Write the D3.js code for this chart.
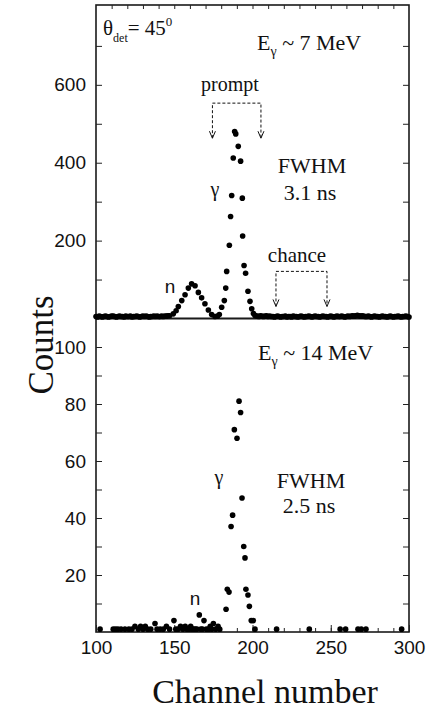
<!DOCTYPE html>
<html>
<head>
<meta charset="utf-8">
<script src="https://cdn.jsdelivr.net/npm/d3@7"></script>
<style>
body { margin: 0; background: #fff; }
.serif { font-family: "Liberation Serif", "Times New Roman", serif; fill: #111; }
.sans { font-family: "Liberation Sans", Arial, sans-serif; fill: #111; }
</style>
</head>
<body>
<script>
// --- data ---
// upper panel, E_gamma ~ 7 MeV
const topChannels = [
  100,101,102,103,104,105,106,107,108,109,
  110,111,112,113,114,115,116,117,118,119,
  120,121,122,123,124,125,126,127,128,129,
  130,131,132,133,134,135,136,137,138,139,
  140,141,142,143,144,145,146,147,
  149.4,151.2,152.6,154.8,156.9,159.0,161.1,163.3,165.4,167.5,
  169.6,171.8,173.9,176.0,177.6,178.8,
  180.3,182.0,182.9,183.5,185.2,186.0,186.7,187.7,188.6,189.3,
  190.9,192.4,193.5,193.7,194.6,195.6,197.1,198.4,199.5,200.6,201.6,
  203,204,205,206,207,208,209,210,211,212,
  213,214,215,216,217,218,219,220,221,222,
  223,224,225,226,227,228,229,230,231,232,
  233,234,235,236,237,238,239,240,241,242,
  243,244,245,246,247,248,249,250,251,252,
  253,254,255,256,257,258,259,260,261,262,
  263,264,265,266,267,268,269,270,271,272,
  273,274,275,276,277,278,279,280,281,282,
  283,284,285,286,287,288,289,290,291,292,
  293,294,295,296,297,298,299,300
];
const topCounts = [
  5,4,6,5,4,5,6,5,4,5,
  6,6,5,4,5,6,5,5,4,6,
  5,5,6,4,5,5,6,5,4,5,
  6,5,6,5,4,5,5,6,5,6,
  5,5,6,5,6,6,7,7,
  12,20,31,46,61,78,89,84,67,53,
  38,22,10,5,6,10,
  29,46,78,121,188,262,316,412,480,474,
  442,404,309,212,136,116,70,44,25,13,8,
  6,5,7,6,5,6,7,5,6,5,
  5,4,5,6,5,4,5,5,6,4,
  5,5,4,6,5,5,4,5,6,5,
  4,5,5,6,5,4,5,6,5,5,
  4,5,6,5,5,4,5,6,5,4,
  5,6,5,5,6,5,4,5,6,5,
  6,7,6,7,8,7,6,7,6,5,
  5,6,5,4,5,6,5,5,4,5,
  6,5,5,4,5,6,5,4,5,5,
  6,5,4,5,5,6,5,4
];

// lower panel, E_gamma ~ 14 MeV
const botChannels = [
  102.6,111,112.5,114,116,118.5,121,123,124.9,127,
  128.5,130,131.5,133,135,137.7,139,141,143,145,
  147,149.8,151,152.5,154,155.5,157,158,159.5,160.5,
  161.5,162.5,163.5,164.5,166,167,168,169,170.5,172,
  173,174,175,176.5,178,179,
  183.1,183.9,185,186.3,187.3,188.4,190.1,191.4,192.4,193.3,
  194.4,195.2,195.8,197.1,198,199.2,200.5,201.6,
  215.4,236.3,256,259.5,267.4,269.5,272.5,295.3
];
const botCounts = [
  1,1,1,1,1,1,1,1,2,1,
  2,1,2,1,1,3,1,1,1,2,
  1,4,1,1,2,1,2,1,1,2,
  1,1,1,1,6,1,1,4,1,1,
  2,1,3,1,2,1,
  8,15,14,37,41,71,68,81,77,47,
  30,26,15,13,9,4,4,1,
  1,1,1,1,1,1,1,1
];

const xLabels = [100, 150, 200, 250, 300];
const topLabels = [200, 400, 600];
const botLabels = [20, 40, 60, 80, 100];

// --- layout ---
const w = 428, h = 712;
const padL = 96, padR = 409, padT = 5, midY = 318.5, padB = 632;

const xScale = d3.scaleLinear().domain([100, 300]).range([padL, padR]);
const yTop = d3.scaleLinear().domain([0, 805]).range([midY, padT]);
const yBot = d3.scaleLinear().domain([0, 110]).range([padB, midY]);

const svg = d3.select("body").append("svg")
  .attr("width", w)
  .attr("height", h);

// frames
svg.append("rect")
  .attr("x", padL).attr("y", padT)
  .attr("width", padR - padL).attr("height", midY - padT)
  .attr("fill", "none").attr("stroke", "#1a1a1a").attr("stroke-width", 1.6);
svg.append("rect")
  .attr("x", padL).attr("y", midY)
  .attr("width", padR - padL).attr("height", padB - midY)
  .attr("fill", "none").attr("stroke", "#1a1a1a").attr("stroke-width", 1.6);

function styleAxis(g) {
  g.select(".domain").remove();
  g.selectAll("line").attr("stroke", "#222").attr("stroke-width", 1);
  g.selectAll("text")
    .attr("class", "sans")
    .style("font-size", "19px")
    .attr("fill", "#111");
}

// y axes, left with labels, right mirrored ticks
svg.append("g")
  .attr("transform", "translate(" + padL + ",0)")
  .call(d3.axisLeft(yTop)
    .tickValues(d3.range(100, 800, 100))
    .tickSizeInner(-6).tickSizeOuter(0).tickPadding(10)
    .tickFormat(d => topLabels.includes(d) ? d : ""))
  .call(styleAxis);
svg.append("g")
  .attr("transform", "translate(" + padL + ",0)")
  .call(d3.axisLeft(yBot)
    .tickValues(d3.range(10, 110, 10))
    .tickSizeInner(-6).tickSizeOuter(0).tickPadding(10)
    .tickFormat(d => botLabels.includes(d) ? d : ""))
  .call(styleAxis);
svg.append("g")
  .attr("transform", "translate(" + padR + ",0)")
  .call(d3.axisRight(yTop).tickValues(d3.range(100, 800, 100))
    .tickSizeInner(-6).tickSizeOuter(0).tickFormat(""))
  .call(styleAxis);
svg.append("g")
  .attr("transform", "translate(" + padR + ",0)")
  .call(d3.axisRight(yBot).tickValues(d3.range(10, 110, 10))
    .tickSizeInner(-6).tickSizeOuter(0).tickFormat(""))
  .call(styleAxis);

// x axes: minor ticks, major ticks with labels, top mirrored
svg.append("g")
  .attr("transform", "translate(0," + padB + ")")
  .call(d3.axisBottom(xScale).tickValues(d3.range(110, 300, 10))
    .tickSizeInner(-4).tickSizeOuter(0).tickFormat(""))
  .call(styleAxis);
svg.append("g")
  .attr("transform", "translate(0," + padB + ")")
  .call(d3.axisBottom(xScale).tickValues(xLabels)
    .tickSizeInner(-7).tickSizeOuter(0).tickPadding(9))
  .call(styleAxis);
svg.append("g")
  .attr("transform", "translate(0," + padT + ")")
  .call(d3.axisTop(xScale).tickValues(d3.range(110, 300, 10))
    .tickSizeInner(-4).tickSizeOuter(0).tickFormat(""))
  .call(styleAxis);

// data points
svg.append("g").selectAll("circle")
  .data(topChannels)
  .enter()
  .append("circle")
  .attr("cx", d => xScale(d))
  .attr("cy", (d, i) => yTop(topCounts[i]))
  .attr("r", 2.8)
  .attr("fill", "#000");

svg.append("g").selectAll("circle")
  .data(botChannels)
  .enter()
  .append("circle")
  .attr("cx", d => xScale(d))
  .attr("cy", (d, i) => yBot(botCounts[i]))
  .attr("r", 2.8)
  .attr("fill", "#000");

// dashed brackets with open arrow heads
function bracket(c0, c1, yHigh, yTip) {
  const x0 = xScale(c0), x1 = xScale(c1);
  const yh = yTop(yHigh), yt = yTop(yTip);
  svg.append("path")
    .attr("d", `M${x0},${yt}V${yh}H${x1}V${yt}`)
    .attr("fill", "none").attr("stroke", "#111")
    .attr("stroke-width", 1).attr("stroke-dasharray", "3,2");
  [x0, x1].forEach(x => {
    svg.append("path")
      .attr("d", `M${x - 3},${yt - 7}L${x},${yt}L${x + 3},${yt - 7}`)
      .attr("fill", "none").attr("stroke", "#111").attr("stroke-width", 1);
  });
}
bracket(174.4, 205.4, 553, 463);
bracket(215, 247.6, 121, 31);

// annotations
const theta = svg.append("text").attr("class", "serif")
  .attr("x", 103).attr("y", 35).style("font-size", "21px");
theta.append("tspan").text("θ");
theta.append("tspan").attr("dy", 7).style("font-size", "12px").text("det");
theta.append("tspan").attr("dy", -7).text("= 45");
theta.append("tspan").attr("dy", -9).style("font-size", "13px").text("0");

function energy(x, y, rest) {
  const t = svg.append("text").attr("class", "serif")
    .attr("x", x).attr("y", y).style("font-size", "22px");
  t.append("tspan").text("E");
  t.append("tspan").attr("dy", 6).style("font-size", "14px").text("γ");
  t.append("tspan").attr("dy", -6).text(rest);
}
energy(257, 50, " ~ 7 MeV");
energy(258, 360, " ~ 14 MeV");

function label(x, y, txt, size, cls, anchor) {
  svg.append("text").attr("class", cls)
    .attr("x", x).attr("y", y)
    .attr("text-anchor", anchor || "middle")
    .style("font-size", size + "px")
    .text(txt);
}
label(230, 91, "prompt", 20, "serif");
label(297, 262, "chance", 21, "serif");
label(312, 173, "FWHM", 22, "serif");
label(310, 200, "3.1 ns", 22, "serif");
label(311, 488, "FWHM", 22, "serif");
label(309, 513, "2.5 ns", 22, "serif");
label(215, 196, "γ", 20, "serif");
label(219, 484, "γ", 20, "serif");
label(170, 293, "n", 19, "sans");
label(195, 605, "n", 19, "sans");

// axis titles
svg.append("text").attr("class", "serif")
  .attr("transform", "translate(53,345) rotate(-90)")
  .attr("text-anchor", "middle")
  .style("font-size", "35px")
  .text("Counts");
svg.append("text").attr("class", "serif")
  .attr("x", 265).attr("y", 703)
  .attr("text-anchor", "middle")
  .style("font-size", "34px")
  .text("Channel number");
</script>
</body>
</html>
